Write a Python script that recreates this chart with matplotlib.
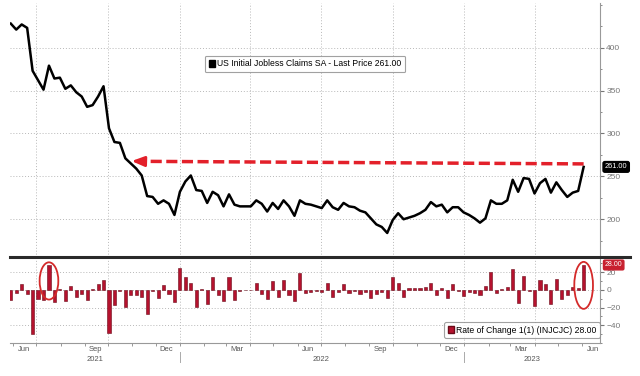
import matplotlib
matplotlib.use("Agg")
import matplotlib.pyplot as plt
import matplotlib.dates as mdates
import matplotlib.transforms as mtransforms
from matplotlib.patches import Ellipse, Patch
from matplotlib.lines import Line2D
from matplotlib.ticker import FixedLocator, MultipleLocator
import pandas as pd

# weekly initial jobless claims (thousands)
claims = [428, 421, 427, 423, 373, 362, 351, 379, 364, 365,
          352, 356, 348, 343, 331, 333, 343, 355, 306, 290,
          289, 271, 265, 259, 251, 227, 226, 218, 222, 218,
          205, 232, 244, 251, 234, 233, 219, 232, 228, 215,
          229, 217, 215, 215, 215, 222, 218, 209, 219, 212,
          222, 215, 204, 222, 218, 217, 215, 213, 222, 214,
          211, 219, 215, 214, 210, 208, 201, 194, 191, 184,
          199, 207, 200, 202, 204, 207, 211, 220, 215, 217,
          208, 214, 214, 208, 205, 201, 196, 201, 222, 218,
          218, 222, 246, 232, 248, 247, 230, 242, 247, 231,
          243, 234, 226, 231, 233, 261]

# week over week change (rate of change 1(1))
roc = [-12, -4, 7, -5, -50, -10, -11, 28, -14, 1,
       -13, 4, -8, -5, -12, 1, 6, 11, -49, -17,
       -1, -19, -6, -6, -8, -27, -1, -9, 5, -5,
       -14, 25, 14, 8, -19, 1, -16, 14, -6, -13,
       14, -12, -1, 0, 0, 8, -5, -10, 10, -8,
       11, -6, -13, 19, -4, -2, -1, -2, 8, -8,
       -2, 6, -4, -1, -5, -2, -9, -5, -2, -9,
       15, 8, -8, 2, 2, 2, 3, 8, -6, 2,
       -9, 6, -1, -7, -2, -4, -6, 4, 20, -4,
       1, 3, 23, -15, 16, -1, -18, 11, 6, -16,
       12, -10, -6, 3, 2, 28]

dates = pd.date_range(end="2023-06-03", periods=len(claims), freq="W-SAT")

month_labels = ["Jun", "Sep", "Dec", "Mar", "Jun", "Sep", "Dec", "Mar", "Jun"]
month_pos = pd.to_datetime(["2021-06-15", "2021-09-15", "2021-12-15", "2022-03-15",
                            "2022-06-15", "2022-09-15", "2022-12-15", "2023-03-15",
                            "2023-06-15"])
year_labels = ["2021", "2022", "2023"]
year_pos = pd.to_datetime(["2021-09-14", "2022-07-01", "2023-03-29"])
year_breaks = pd.to_datetime(["2022-01-01", "2023-01-01"])
quarter_lines = pd.to_datetime(["2021-07-01", "2021-10-01", "2022-01-01", "2022-04-01",
                                "2022-07-01", "2022-10-01", "2023-01-01", "2023-04-01"])

plt.rcParams["font.family"] = ["Liberation Sans", "DejaVu Sans"]

W, H = 640, 376
fig = plt.figure(figsize=(6.4, 3.76), dpi=100)
ax = fig.add_axes([10 / W, 1 - 257 / H, 590 / W, 254 / H])
ax2 = fig.add_axes([10 / W, 1 - 343 / H, 590 / W, 86 / H])

xmin, xmax = pd.Timestamp("2021-05-28"), pd.Timestamp("2023-06-24")
grid_kw = dict(color="#b8b8b8", lw=0.7, ls=(0, (1, 2)))
tick_gray = "#777777"

# ---- top panel ----
ax.plot(dates, claims, color="black", lw=1.8, zorder=3)
ax.set_xlim(xmin, xmax)
ax.set_ylim(156, 452)
ax.yaxis.tick_right()
ax.set_yticks([200, 250, 300, 350, 400])
ax.yaxis.set_minor_locator(MultipleLocator(25))
ax.tick_params(axis="y", which="both", colors=tick_gray, labelsize=6, pad=1.5)
ax.tick_params(axis="y", which="major", length=3)
ax.tick_params(axis="y", which="minor", length=1.5)
ax.set_xticks([])
ax.grid(axis="y", **grid_kw)
for q in quarter_lines:
    ax.axvline(q, zorder=0, **grid_kw)
for s in ["left", "top", "bottom"]:
    ax.spines[s].set_visible(False)
ax.spines["right"].set_color("#999999")
ax.spines["right"].set_linewidth(0.8)

# red dashed arrow back to the earlier level
arrow_red = "#e3202a"
ax.plot([dates[-1], pd.Timestamp("2021-11-10")], [264.5, 267.5],
        color=arrow_red, lw=2.5, dashes=(3.2, 1.3), zorder=4, solid_capstyle="butt")
ax.annotate("", xy=(pd.Timestamp("2021-10-31"), 267.8),
            xytext=(pd.Timestamp("2021-11-14"), 267.4),
            arrowprops=dict(arrowstyle="-|>,head_length=0.75,head_width=0.3",
                            color=arrow_red, lw=2.0, shrinkA=0, shrinkB=0), zorder=4)

leg = ax.legend(handles=[Patch(facecolor="black", edgecolor="black")],
                labels=["US Initial Jobless Claims SA - Last Price 261.00"],
                loc="center", bbox_to_anchor=(0.5, 0.76), fontsize=6.2,
                handlelength=0.7, handleheight=0.9, handletextpad=0.3,
                borderpad=0.45, frameon=True, fancybox=True)
leg.get_frame().set_edgecolor("#8a8a8a")
leg.get_frame().set_linewidth(0.8)

ax.annotate("261.00", xy=(1.0, claims[-1]), xycoords=("axes fraction", "data"),
            xytext=(3.5, 0), textcoords="offset points", ha="left", va="center",
            color="white", fontsize=5.3, zorder=6, annotation_clip=False,
            bbox=dict(boxstyle="round,pad=0.25", fc="black", ec="black"))

# ---- bottom panel ----
ax2.bar(dates, roc, width=4, color="#b5122e", edgecolor="#6a0a18", lw=0.4, zorder=3)
ax2.set_xlim(xmin, xmax)
ax2.set_ylim(-60, 37)
ax2.yaxis.tick_right()
ax2.set_yticks([-40, -20, 0, 20])
ax2.yaxis.set_minor_locator(MultipleLocator(10))
ax2.tick_params(axis="y", which="both", colors=tick_gray, labelsize=6, pad=1.5)
ax2.tick_params(axis="y", which="major", length=3)
ax2.tick_params(axis="y", which="minor", length=1.5)
ax2.grid(axis="y", **grid_kw)
for q in quarter_lines:
    ax2.axvline(q, zorder=0, **grid_kw)

ax2.xaxis.set_major_locator(FixedLocator(mdates.date2num(month_pos)))
ax2.set_xticklabels(month_labels)
ax2.xaxis.set_minor_locator(mdates.MonthLocator())
ax2.tick_params(axis="x", which="major", length=0, labelsize=5.5, colors="#555555", pad=2)
ax2.tick_params(axis="x", which="minor", length=2.5, color="#888888")
for s in ["left", "top"]:
    ax2.spines[s].set_visible(False)
for s in ["right", "bottom"]:
    ax2.spines[s].set_color("#999999")
    ax2.spines[s].set_linewidth(0.8)

trans = mtransforms.blended_transform_factory(ax2.transData, ax2.transAxes)
for lab, pos in zip(year_labels, year_pos):
    ax2.text(pos, -0.19, lab, transform=trans, ha="center", va="center",
             fontsize=5.5, color="#555555")
for b in year_breaks:
    ax2.plot([b, b], [-0.11, -0.22], transform=trans, color="#aaaaaa", lw=0.7, clip_on=False)

circle_red = "#d42a2a"
ax2.add_patch(Ellipse((mdates.date2num(dates[7]), 10), width=24, height=42,
                      fill=False, ec=circle_red, lw=1.3, zorder=5, clip_on=False))
ax2.add_patch(Ellipse((mdates.date2num(dates[-1]), 5), width=24, height=53,
                      fill=False, ec=circle_red, lw=1.3, zorder=5, clip_on=False))

leg2 = ax2.legend(handles=[Patch(facecolor="#b5122e", edgecolor="#6a0a18")],
                  labels=["Rate of Change 1(1) (INJCJC) 28.00"],
                  loc="center", bbox_to_anchor=(0.868, 0.15), fontsize=6.2,
                  handlelength=0.7, handleheight=0.9, handletextpad=0.3,
                  borderpad=0.4, frameon=True, fancybox=True)
leg2.get_frame().set_edgecolor("#8a8a8a")
leg2.get_frame().set_linewidth(0.8)

ax2.annotate("28.00", xy=(1.0, roc[-1]), xycoords=("axes fraction", "data"),
             xytext=(3.5, 0), textcoords="offset points", ha="left", va="center",
             color="white", fontsize=5.0, zorder=6, annotation_clip=False,
             bbox=dict(boxstyle="round,pad=0.2", fc="#c8202f", ec="#c8202f"))

# thick separator between the panels
fig.add_artist(Line2D([10 / W, 630 / W], [1 - 257 / H, 1 - 257 / H],
                      color="#2a2a2a", lw=2.2))

fig.savefig("out.png", dpi=100)
